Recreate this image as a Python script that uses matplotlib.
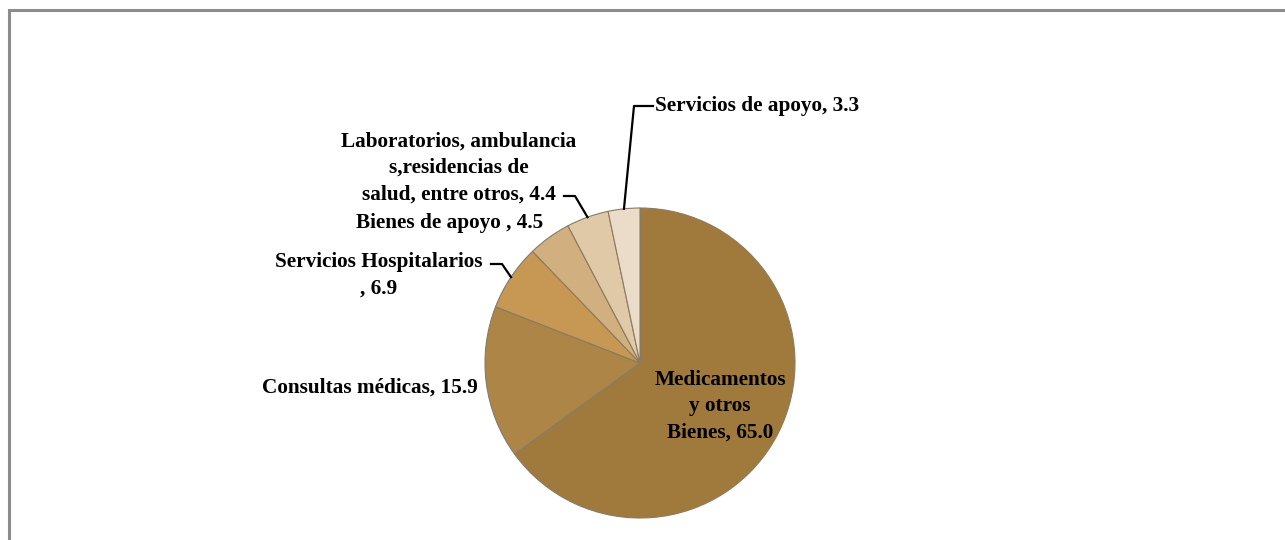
import matplotlib
matplotlib.use('Agg')
import matplotlib.pyplot as plt
import numpy as np

plt.rcParams['font.family'] = ['Liberation Serif', 'DejaVu Serif']

labels = [
    'Medicamentos\ny otros\nBienes',
    'Consultas médicas',
    'Servicios Hospitalarios\n',
    'Bienes de apoyo ',
    'Laboratorios, ambulancia\ns,residencias de\nsalud, entre otros',
    'Servicios de apoyo',
]
values = [65.0, 15.9, 6.9, 4.5, 4.4, 3.3]
colors = ['#A07A3D', '#AD8547', '#C69853', '#D2AF7E', '#E0C9A6', '#EADCC9']

W, H = 1285, 540
fig = plt.figure(figsize=(W / 100, H / 100), dpi=100)
ax = fig.add_axes([0, 0, 1, 1])
ax.set_xlim(0, W)
ax.set_ylim(0, H)
ax.set_aspect('equal')
ax.axis('off')

# chart frame (cut off at right/bottom like the source)
ax.plot([9, 9, W + 5], [-5, H - 10, H - 10], color='#8C8C8C', lw=2.2,
        solid_joinstyle='miter', clip_on=False)

cx, cy, r = 640, H - 363, 155
wedges, _ = ax.pie(values, colors=colors, startangle=90, counterclock=False,
                   radius=r, center=(cx, cy),
                   wedgeprops=dict(edgecolor='#8A7A63', linewidth=0.8))
ax.set_xlim(0, W)
ax.set_ylim(0, H)

fs = 15.3
tkw = dict(fontsize=fs, fontweight='bold', color='black', linespacing=1.42)


def edge_point(w):
    a = np.deg2rad((w.theta1 + w.theta2) / 2)
    return cx + r * np.cos(a), cy + r * np.sin(a)


def label(i):
    return f'{labels[i]}, {values[i]:.1f}'


# Medicamentos (inside)
ax.text(720, H - 406, label(0), ha='center', va='center', **tkw)
# Consultas médicas
ax.text(478, H - 388, label(1), ha='right', va='center', **tkw)
# Servicios Hospitalarios
ax.text(379, H - 275, 'Servicios Hospitalarios\n, %.1f' % values[2],
        ha='center', va='center', **tkw)
px, py = edge_point(wedges[2])
ax.plot([px, 502, 491], [py, H - 264, H - 264], color='black', lw=1.6)
# Bienes de apoyo
ax.text(450, H - 223, label(3), ha='center', va='center', **tkw)
# Laboratorios
ax.text(459, H - 168, label(4), ha='center', va='center', **tkw)
px, py = edge_point(wedges[4])
ax.plot([px, 575, 564], [py, H - 196, H - 196], color='black', lw=1.6)
# Servicios de apoyo
ax.text(655, H - 106, label(5), ha='left', va='center', **tkw)
px, py = edge_point(wedges[5])
ax.plot([px, 634, 653], [py, H - 106, H - 106], color='black', lw=1.6)

fig.savefig('out.png', dpi=100)
